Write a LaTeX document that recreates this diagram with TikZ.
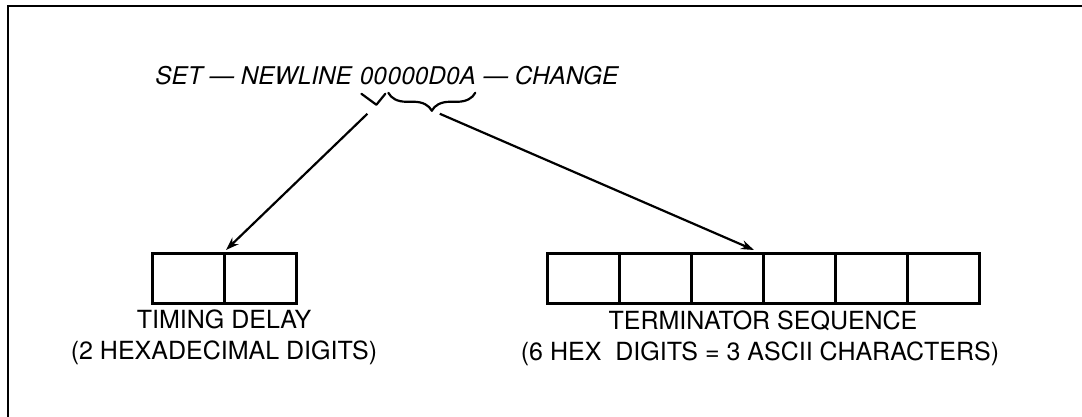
\documentclass[tikz,border=0pt]{standalone}
\usepackage{fontspec}
\setmainfont{TeX Gyre Heros}
\usetikzlibrary{calc,arrows.meta,decorations.pathreplacing}
\begin{document}
\begin{tikzpicture}[x=0.5pt,y=-0.5pt,
  frameline/.style={line width=1.1pt},
  cell/.style={draw,line width=1.5pt,minimum width=36pt,minimum height=25pt,inner sep=0pt,outer sep=0pt},
  toptext/.style={inner sep=0pt,anchor=base west,font=\fontsize{12.2}{14}\selectfont\itshape},
  lbl/.style={inner sep=0pt,anchor=base,font=\fontsize{12.5}{15}\selectfont},
  brc/.style={line width=1.1pt,line join=round,line cap=round},
  arr/.style={line width=1.1pt,-{Stealth[length=6.5pt,width=4.5pt]}}]
\useasboundingbox (0,0) rectangle (1082,417);
\draw[frameline] (8,417) -- (8,6) -- (1082,6);

% top text
\node[toptext] (t1) at (155,85) {SET --- NEWLINE};
\node[toptext] (d1) at ($(t1.base east)+(7,0)$) {00};
\node[toptext] (d2) at (d1.base east) {000D0A};
\node[toptext] (t2) at ($(d2.base east)+(7,0)$) {--- CHANGE};

% boxes
\node[cell] (c1) at (188,278) {};
\node[cell,anchor=west] (c2) at (c1.east) {};
\node[cell] (r1) at (583,278) {};
\node[cell,anchor=west] (r2) at (r1.east) {};
\node[cell,anchor=west] (r3) at (r2.east) {};
\node[cell,anchor=west] (r4) at (r3.east) {};
\node[cell,anchor=west] (r5) at (r4.east) {};
\node[cell,anchor=west] (r6) at (r5.east) {};

% labels
\node[lbl] (l1a) at ($(c1.south east)+(0,25)$) {TIMING DELAY};
\node[lbl] (l1b) at ($(c1.south east)+(0,56)$) {(2 HEXADECIMAL DIGITS)};
\node[lbl] (l2a) at ($(r3.south east)+(0,26)$) {TERMINATOR SEQUENCE};
\node[lbl] (l2b) at ($(r3.south east)+(-3,57)$) {(6 HEX\ \ DIGITS = 3 ASCII CHARACTERS)};

% braces
\coordinate (bA1) at ($(d1.south west)+(2,8)$);
\coordinate (tipA) at ($(d1.south west)+(17,19)$);
\coordinate (bA2) at ($(d1.south east)+(-2,8)$);
\draw[brc] (bA1) -- (tipA) -- (bA2);
\draw[brc,decorate,decoration={brace,mirror,amplitude=9pt}]
  ($(d2.south west)+(1,7)$) -- ($(d2.south east)+(-1,7)$);
\coordinate (tipB) at ($(d2.south)+(0,25)$);

% arrows
\coordinate (sA) at ($(tipA)+(-9,9)$);
\coordinate (sB) at ($(tipB)+(8,3)$);
\coordinate (eA) at ($(c1.north east)+(2,-3)$);
\coordinate (eB) at ($(r3.north east)+(-9,-3)$);
\draw[arr] (sA) -- (eA);
\draw[arr] (sB) -- (eB);
\end{tikzpicture}
\end{document}
